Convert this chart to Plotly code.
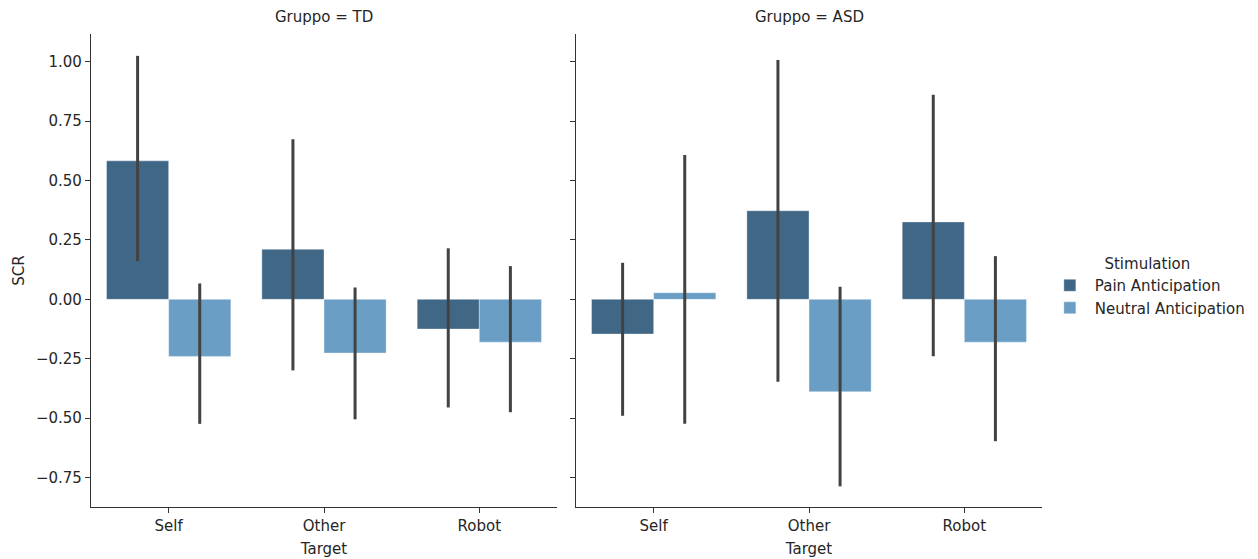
import plotly.graph_objects as go

targets = ["Self", "Other", "Robot"]
groups = ["TD", "ASD"]
stimulations = ["Pain Anticipation", "Neutral Anticipation"]

td_pain = [0.583, 0.211, -0.125]
td_pain_hi = [1.025, 0.674, 0.215]
td_pain_lo = [0.161, -0.299, -0.455]
td_neutral = [-0.240, -0.226, -0.180]
td_neutral_hi = [0.067, 0.050, 0.140]
td_neutral_lo = [-0.524, -0.505, -0.475]

asd_pain = [-0.146, 0.373, 0.326]
asd_pain_hi = [0.154, 1.008, 0.861]
asd_pain_lo = [-0.490, -0.347, -0.239]
asd_neutral = [0.028, -0.389, -0.180]
asd_neutral_hi = [0.608, 0.053, 0.182]
asd_neutral_lo = [-0.524, -0.787, -0.597]

colors = ["#416786", "#6a9ec4"]
errcolor = "#424242"
font = "DejaVu Sans"
fs = 15

data = {
    "TD": [(td_pain, td_pain_hi, td_pain_lo), (td_neutral, td_neutral_hi, td_neutral_lo)],
    "ASD": [(asd_pain, asd_pain_hi, asd_pain_lo), (asd_neutral, asd_neutral_hi, asd_neutral_lo)],
}

fig = go.Figure()
for gi, g in enumerate(groups):
    xa = "x" if gi == 0 else "x2"
    ya = "y" if gi == 0 else "y2"
    for si, s in enumerate(stimulations):
        vals, hi, lo = data[g][si]
        fig.add_trace(go.Bar(
            x=targets, y=vals, name=s, xaxis=xa, yaxis=ya,
            offsetgroup=str(si), showlegend=(gi == 0),
            marker=dict(color=colors[si], line=dict(width=0.6, color="rgba(255,255,255,0.6)")),
            error_y=dict(type="data", symmetric=False,
                         array=[h - v for h, v in zip(hi, vals)],
                         arrayminus=[v - l for l, v in zip(lo, vals)],
                         color=errcolor, thickness=3, width=0),
        ))

yr = [-0.874, 1.117]
axis_common = dict(showline=True, linecolor="#333", linewidth=1.2, ticks="outside",
                   ticklen=5, tickcolor="#333", showgrid=False, zeroline=False,
                   automargin=False,
                   tickfont=dict(family=font, size=fs, color="#262626"))
ytickvals = [-0.75, -0.5, -0.25, 0, 0.25, 0.5, 0.75, 1.0]
yticktext = [("\u2212" if v < 0 else "") + f"{abs(v):.2f}" for v in ytickvals]

fig.update_layout(
    width=1258, height=559,
    margin=dict(l=91, r=216, t=34, b=52, autoexpand=False),
    paper_bgcolor="white", plot_bgcolor="white",
    barmode="group", bargap=0.2, bargroupgap=0,
    font=dict(family=font, size=fs, color="#262626"),
    xaxis=dict(domain=[0, 0.49], anchor="y", range=[-0.5, 2.5],
               title=dict(text="Target", font=dict(size=fs), standoff=9), **axis_common),
    xaxis2=dict(domain=[0.51, 1.0], anchor="y2", range=[-0.5, 2.5],
                title=dict(text="Target", font=dict(size=fs), standoff=9), **axis_common),
    yaxis=dict(domain=[0, 1], anchor="x", range=yr, tickvals=ytickvals, ticktext=yticktext,
               title=dict(text="SCR", font=dict(size=fs), standoff=7), **axis_common),
    yaxis2=dict(domain=[0, 1], anchor="x2", range=yr, tickvals=ytickvals, showticklabels=False,
                **axis_common),
    legend=dict(x=1.003, y=0.465, xanchor="left", yanchor="middle", tracegroupgap=0,
                title=dict(text="Stimulation", side="top center", font=dict(size=fs)),
                font=dict(size=fs), bgcolor="rgba(0,0,0,0)", itemwidth=40),
    annotations=[
        dict(text="Gruppo = TD", x=0.245, y=1.0, xref="paper", yref="paper",
             xanchor="center", yanchor="bottom", yshift=6, showarrow=False, font=dict(size=fs)),
        dict(text="Gruppo = ASD", x=0.755, y=1.0, xref="paper", yref="paper",
             xanchor="center", yanchor="bottom", yshift=6, showarrow=False, font=dict(size=fs)),
    ],
)

fig.write_html("out.html")
